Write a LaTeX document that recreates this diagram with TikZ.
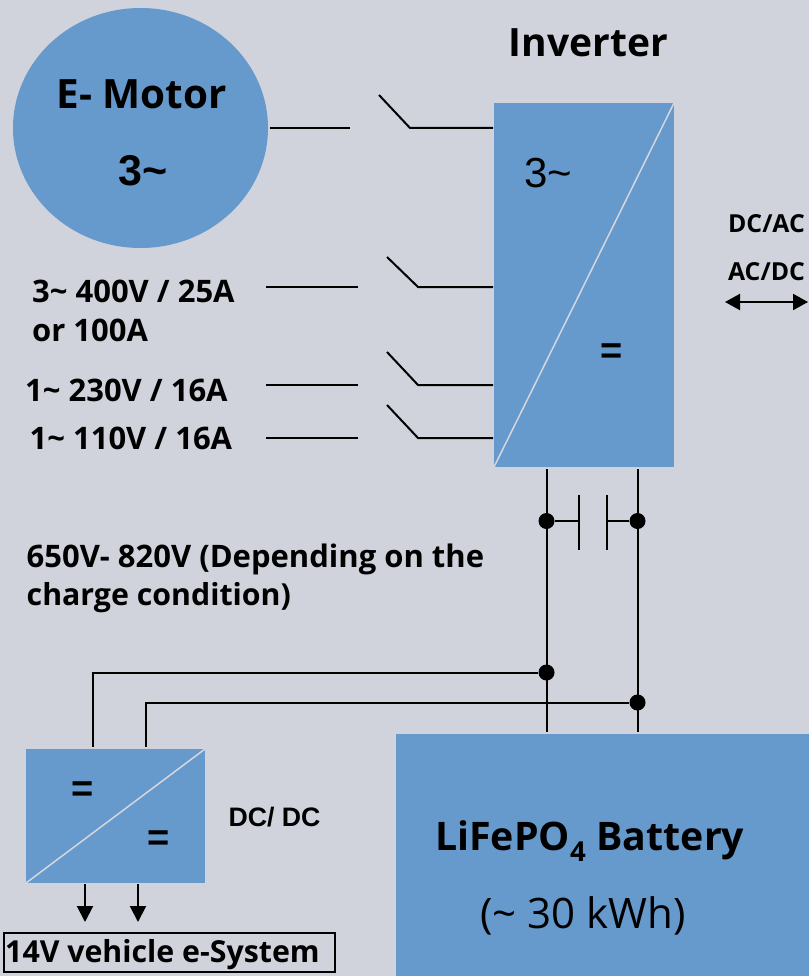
\documentclass[tikz,border=0pt]{standalone}
\usepackage{fontspec}
\setmainfont{Open Sans}
\newfontfamily\arialf{Liberation Sans}
\usetikzlibrary{arrows.meta,shapes.geometric}
\definecolor{bg}{HTML}{D0D3DB}
\definecolor{blu}{HTML}{6699CC}
\tikzset{
  blk/.style={fill=blu,draw=none},
  wire/.style={draw=black,line width=2pt},
  diag/.style={draw=bg!90!white,line width=1.5pt},
  dotn/.style={circle,fill=black,inner sep=0pt,minimum size=16pt},
  lab/.style={inner sep=0pt,font=\bfseries\fontsize{#1}{#1}\selectfont,anchor=west},
  alab/.style={inner sep=0pt,font=\arialf\bfseries\fontsize{#1}{#1}\selectfont},
  arr/.style={wire,-{Triangle[length=16pt,width=16pt]}},
  darr/.style={wire,{Triangle[length=15pt,width=16pt]}-{Triangle[length=15pt,width=16pt]}}
}
\begin{document}
\begin{tikzpicture}[x=1pt,y=-1pt]
\path[use as bounding box,fill=bg] (0,0) rectangle (809,976);
% shapes
\node[blk,ellipse,minimum width=255pt,minimum height=240pt,inner sep=0pt] (motor) at (140.5,128) {};
\path[blk] (494,103) rectangle (674,467);
\coordinate (invBL) at (494,467); \coordinate (invTR) at (674,103);
\draw[diag] (invBL) -- (invTR);
\path[blk] (26,749) rectangle (205,883);
\coordinate (dcBL) at (26,883); \coordinate (dcTR) at (205,749);
\draw[diag] (dcBL) -- (dcTR);
\path[blk] (396,734) rectangle (809,976);
% switches
\coordinate (m1) at (270,128); \coordinate (m2) at (350,128);
\coordinate (s1a) at (379,95); \coordinate (s1b) at (410,128); \coordinate (s1c) at (493,128);
\draw[wire] (m1) -- (m2);
\draw[wire] (s1a) -- (s1b) -- (s1c);
\coordinate (l2a) at (266,287); \coordinate (l2b) at (358,287);
\coordinate (s2a) at (387,257); \coordinate (s2b) at (418,287); \coordinate (s2c) at (493,287);
\draw[wire] (l2a) -- (l2b); \draw[wire] (s2a) -- (s2b) -- (s2c);
\coordinate (l3a) at (266,385); \coordinate (l3b) at (358,385);
\coordinate (s3a) at (387,352); \coordinate (s3b) at (418,385); \coordinate (s3c) at (493,385);
\draw[wire] (l3a) -- (l3b); \draw[wire] (s3a) -- (s3b) -- (s3c);
\coordinate (l4a) at (266,438); \coordinate (l4b) at (358,438);
\coordinate (s4a) at (387,405); \coordinate (s4b) at (418,438); \coordinate (s4c) at (493,438);
\draw[wire] (l4a) -- (l4b); \draw[wire] (s4a) -- (s4b) -- (s4c);
% DC bus
\coordinate (bL0) at (546.5,469); \coordinate (bL1) at (546.5,732);
\coordinate (bR0) at (637.5,469); \coordinate (bR1) at (637.5,732);
\draw[wire] (bL0) -- (bL1);
\draw[wire] (bR0) -- (bR1);
\node[dotn] (d1) at (546.5,521) {};
\node[dotn] (d2) at (637.5,521) {};
\node[dotn] (d3) at (546.5,672.5) {};
\node[dotn] (d4) at (637.5,702.5) {};
\coordinate (c1t) at (578.5,495); \coordinate (c1b) at (578.5,550); \coordinate (c1m) at (578.5,521);
\coordinate (c2t) at (606.5,495); \coordinate (c2b) at (606.5,550); \coordinate (c2m) at (606.5,521);
\draw[wire] (d1) -- (c1m);
\draw[wire] (c1t) -- (c1b);
\draw[wire] (c2t) -- (c2b);
\draw[wire] (c2m) -- (d2);
\coordinate (w1) at (92.5,747); \coordinate (w2) at (145.5,747);
\draw[wire] (w1) |- (d3);
\draw[wire] (w2) |- (d4);
% arrows
\coordinate (a1s) at (85,884); \coordinate (a1e) at (85,922);
\coordinate (a2s) at (138,884); \coordinate (a2e) at (138,922);
\draw[arr] (a1s) -- (a1e);
\draw[arr] (a2s) -- (a2e);
\coordinate (da) at (725,302); \coordinate (db) at (808,302);
\draw[darr] (da) -- (db);
% text
\node[lab=40.4] (t1) at (56.5,94) {E- Motor};
\node[alab=43,anchor=center] (t2) at (143,171) {3\char"7E};
\node[lab=39,anchor=center] (t3) at (588.5,43) {Inverter};
\node[inner sep=0pt,font=\arialf\fontsize{42}{42}\selectfont] (t4) at (548.5,173) {3\char"7E};
\node[alab=38,anchor=west] (t5) at (600,354) {=};
\node[lab=24.8,anchor=center] (t6) at (766.5,224) {DC/AC};
\node[lab=24.8,anchor=center] (t7) at (766.5,272) {AC/DC};
\node[lab=31] (t8) at (32,291) {3\char"7E{} 400V / 25A};
\node[lab=31] (t9) at (32,330) {or 100A};
\node[lab=31] (t10) at (25,390) {1\char"7E{} 230V / 16A};
\node[lab=31] (t11) at (29.5,438) {1\char"7E{} 110V / 16A};
\node[lab=31] (t12) at (26.5,559) {650V- 820V (Depending on the};
\node[lab=30.3] (t13) at (26.5,598) {charge condition)};
\node[alab=38,anchor=west] (t14) at (71,792) {=};
\node[alab=38,anchor=west] (t15) at (147,841) {=};
\node[alab=26.7,anchor=center] (t16) at (274.5,817) {DC/ DC};
\node[lab=39.3] (t17) at (435,841) {LiFePO\textsubscript{4} Battery};
\node[inner sep=0pt,anchor=west,font=\fontsize{42}{42}\selectfont] (t18) at (480,916) {(\char"7E{} 30 kWh)};
\node[draw=black,line width=2pt,inner sep=0pt,minimum width=331pt,minimum height=39pt,anchor=north west] (vs) at (3,932) {};
\node[lab=30.3] (t19) at (5,955) {14V vehicle e-System};
\end{tikzpicture}
\end{document}
